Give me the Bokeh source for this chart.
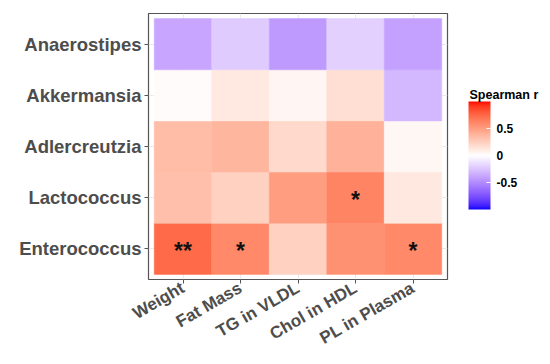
import math
from bokeh.plotting import figure
from bokeh.layouts import row
from bokeh.models import (ColumnDataSource, LinearColorMapper, ColorBar, FixedTicker,
                          Range1d, Label)
from bokeh.core.properties import value
from bokeh.embed import file_html
from bokeh.resources import INLINE

# ---- data ----
taxa = ["Enterococcus", "Lactococcus", "Adlercreutzia", "Akkermansia", "Anaerostipes"]
measures = ["Weight", "Fat Mass", "TG in VLDL", "Chol in HDL", "PL in Plasma"]
r_enterococcus = [0.74, 0.60, 0.24, 0.56, 0.60]
r_lactococcus = [0.33, 0.24, 0.50, 0.62, 0.12]
r_adlercreutzia = [0.34, 0.38, 0.20, 0.40, 0.04]
r_akkermansia = [0.02, 0.11, 0.05, 0.17, -0.30]
r_anaerostipes = [-0.38, -0.22, -0.43, -0.20, -0.40]
stars_enterococcus = ["**", "*", "", "", "*"]
stars_lactococcus = ["", "", "", "*", ""]
stars_other = ["", "", "", "", ""]
legend_title = "Spearman r"
legend_ticks = [-0.5, 0, 0.5]
legend_labels = ["-0.5", "0", "0.5"]

rows = [r_enterococcus, r_lactococcus, r_adlercreutzia, r_akkermansia, r_anaerostipes]
star_rows = [stars_enterococcus, stars_lactococcus, stars_other, stars_other, stars_other]

# ---- diverging palette, Lab interpolation blue-white-red ----
def _lin(c):
    c = c / 255.0
    return c / 12.92 if c <= 0.04045 else ((c + 0.055) / 1.055) ** 2.4

def _gam(c):
    c = 12.92 * c if c <= 0.0031308 else 1.055 * c ** (1 / 2.4) - 0.055
    return max(0, min(255, round(c * 255)))

WX, WY, WZ = 0.95047, 1.0, 1.08883

def rgb2lab(rgb):
    r, g, b = (_lin(v) for v in rgb)
    X = 0.4124564 * r + 0.3575761 * g + 0.1804375 * b
    Y = 0.2126729 * r + 0.7151522 * g + 0.0721750 * b
    Z = 0.0193339 * r + 0.1191920 * g + 0.9503041 * b
    def f(t):
        return t ** (1 / 3) if t > 216 / 24389 else (24389 / 27 * t + 16) / 116
    fx, fy, fz = f(X / WX), f(Y / WY), f(Z / WZ)
    return (116 * fy - 16, 500 * (fx - fy), 200 * (fy - fz))

def lab2hex(lab):
    L, a, b = lab
    fy = (L + 16) / 116
    fx = fy + a / 500
    fz = fy - b / 200
    def fi(t):
        return t ** 3 if t ** 3 > 216 / 24389 else (116 * t - 16) / (24389 / 27)
    X, Y, Z = fi(fx) * WX, fi(fy) * WY, fi(fz) * WZ
    r = 3.2404542 * X - 1.5371385 * Y - 0.4985314 * Z
    g = -0.9692660 * X + 1.8760108 * Y + 0.0415560 * Z
    bb = 0.0556434 * X - 0.2040259 * Y + 1.0572252 * Z
    return "#%02x%02x%02x" % (_gam(max(r, 0)), _gam(max(g, 0)), _gam(max(bb, 0)))

lo, mid, hi = rgb2lab((0, 0, 255)), rgb2lab((255, 255, 255)), rgb2lab((255, 0, 0))
N = 256
palette = []
for k in range(N):
    t = k / (N - 1) * 2 - 1
    if t < 0:
        s = -t
        lab = tuple(mid[i] + (lo[i] - mid[i]) * s for i in range(3))
    else:
        lab = tuple(mid[i] + (hi[i] - mid[i]) * t for i in range(3))
    palette.append(lab2hex(lab))

mapper = LinearColorMapper(palette=palette, low=-1, high=1)

xs, ys, zs, st = [], [], [], []
for j, rw in enumerate(rows):
    for i, v in enumerate(rw):
        xs.append(i)
        ys.append(j)
        zs.append(v)
        st.append(star_rows[j][i])
src = ColumnDataSource(dict(x=xs, y=ys, z=zs, s=st))

H = 362
BOTTOM = 83
p = figure(width=449, height=H, output_backend="svg", toolbar_location=None,
           x_range=Range1d(-0.6, len(measures) - 0.4),
           y_range=Range1d(-0.6, len(taxa) - 0.4),
           min_border_left=148, min_border_top=13, min_border_bottom=BOTTOM,
           min_border_right=2)
p.background_fill_color = "white"
p.border_fill_color = "white"
p.outline_line_color = "#555555"
p.outline_line_width = 1.2

p.rect(x="x", y="y", width=1, height=1, source=src,
       fill_color={"field": "z", "transform": mapper},
       line_color={"field": "z", "transform": mapper}, line_width=0.5)
p.text(x="x", y="y", text="s", source=src, text_align="center",
       text_baseline="middle", text_font=value("Liberation Sans"),
       text_font_size="23px", text_font_style="bold", text_color="#111111",
       y_offset=2)

for ax, labels in ((p.xaxis, measures), (p.yaxis, taxa)):
    ax.ticker = FixedTicker(ticks=list(range(len(labels))))
    ax.major_label_overrides = {i: lab for i, lab in enumerate(labels)}
    ax.minor_tick_line_color = None
    ax.axis_line_color = None
    ax.major_tick_line_color = "#555555"
    ax.major_tick_in = 0
    ax.major_tick_out = 4
    ax.major_label_text_font = "Liberation Sans"
    ax.major_label_text_font_style = "bold"
    ax.major_label_text_color = "#4D4D4D"

p.yaxis.major_label_text_font_size = "18.5px"
p.xaxis.major_label_text_font_size = "17px"
p.xaxis.major_label_orientation = math.pi / 6
p.xaxis.major_label_standoff = 3
p.yaxis.major_label_standoff = 3

p.xgrid.grid_line_color = "#EBEBEB"
p.ygrid.grid_line_color = "#EBEBEB"

# ---- legend panel (its frame is aligned with the heatmap frame by the row) ----
LW = 96
lf = figure(width=LW, height=H, output_backend="svg", toolbar_location=None,
            x_range=Range1d(0, LW), y_range=Range1d(0, H),
            min_border=0, outline_line_color=None)
lf.axis.visible = False
lf.grid.visible = False
lf.background_fill_color = "white"
lf.border_fill_color = "white"

cb = ColorBar(color_mapper=mapper, width=22, height=108,
              ticker=FixedTicker(ticks=legend_ticks),
              major_label_overrides={t: l for t, l in zip(legend_ticks, legend_labels)},
              major_label_text_font="Liberation Sans",
              major_label_text_font_style="bold",
              major_label_text_font_size="12px",
              major_label_text_color="black",
              major_tick_line_color="white", major_tick_in=4, major_tick_out=0,
              bar_line_color=None, border_line_color=None,
              background_fill_color=None, location=(19, 70),
              padding=0, margin=0, label_standoff=6)
lf.add_layout(cb, "center")
lf.add_layout(Label(x=20, y=185, x_units="screen", y_units="screen",
                    text=legend_title, text_font="Liberation Sans",
                    text_font_style="bold", text_font_size="12.5px",
                    text_color="black", text_baseline="alphabetic"), "center")

layout = row(p, lf)
open("out.html", "w").write(file_html(layout, INLINE))
